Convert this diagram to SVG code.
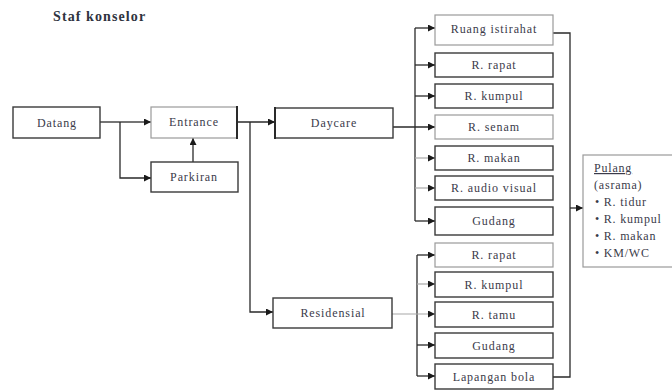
<svg xmlns="http://www.w3.org/2000/svg" width="672" height="392" viewBox="0 0 672 392">
<defs>
<marker id="ah" viewBox="0 0 8 8" refX="8" refY="4" markerWidth="7" markerHeight="7" markerUnits="userSpaceOnUse" orient="auto">
<path d="M0,0 L8,4 L0,8 Z" fill="#1a1a1a"/>
</marker>
</defs>
<style>
.box{fill:#fff;stroke:#3a3a3a;stroke-width:1.4}
.lbox{fill:#fff;stroke:#9a9a9a;stroke-width:1.2}
.t{font-family:"Liberation Serif","Times New Roman",serif;font-size:12px;letter-spacing:0.9px;fill:#3b3b4a;text-anchor:middle;dominant-baseline:central}
.p{font-family:"Liberation Serif","Times New Roman",serif;font-size:12px;letter-spacing:0.8px;fill:#3b3b4a}
.c{fill:none;stroke:#2a2a2a;stroke-width:1.3}
.cl{fill:none;stroke:#a8a8a8;stroke-width:1.2}
.a{marker-end:url(#ah)}
</style>
<rect width="672" height="392" fill="#fff"/>
<text x="53" y="21" style="font-family:'Liberation Serif','Times New Roman',serif;font-size:14px;font-weight:bold;letter-spacing:1.1px;fill:#2f3340">Staf konselor</text>

<g id="connectors">
<path class="c" d="M100,122 H120"/>
<path class="c a" d="M120,122 H151"/>
<path class="c a" d="M120,122 V178 H151"/>
<path class="c a" d="M193,162 V138"/>
<path class="c a" d="M237,122 H275"/>
<path class="c a" d="M250,122 V312 H273"/>
<path class="c a" d="M391,127 H435"/>
<path class="c" d="M415,28 V221"/>
<path class="c a" d="M415,28 H435"/>
<path class="c a" d="M415,65 H435"/>
<path class="c a" d="M415,96 H435"/>
<path class="cl a" d="M415,158 H435"/>
<path class="cl a" d="M415,188 H435"/>
<path class="c a" d="M415,221 H435"/>
<path class="c" d="M417,255 V376"/>
<path class="c a" d="M417,255 H435"/>
<path class="cl a" d="M417,284 H435"/>
<path class="cl a" d="M392,314 H435"/>
<path class="c a" d="M417,345 H435"/>
<path class="c a" d="M417,376 H435"/>
<path class="c" d="M553,33 H570 V377 H553"/>
<path class="c a" d="M570,208 H583"/>
</g>

<g id="datang"><rect class="box" x="13" y="107" width="87" height="31"/><text class="t" x="57" y="123">Datang</text></g>
<g id="entrance"><rect class="lbox" x="151" y="107" width="86" height="31"/><path class="c" d="M237,106 V139" style="stroke-width:2"/><text class="t" x="194" y="122">Entrance</text></g>
<g id="parkiran"><rect class="box" x="151" y="162" width="87" height="30"/><text class="t" x="194" y="177">Parkiran</text></g>
<g id="daycare"><rect class="box" x="275" y="108" width="118" height="30"/><path class="c" d="M275,107 V139" style="stroke-width:2"/><text class="t" x="334" y="123">Daycare</text></g>
<g id="residensial"><rect class="box" x="273" y="298" width="119" height="30"/><text class="t" x="333" y="313">Residensial</text></g>

<g id="ruang-istirahat"><rect class="lbox" x="435" y="15" width="118" height="30"/><text class="t" x="494" y="29">Ruang istirahat</text></g>
<g id="r-rapat-1"><rect class="box" x="435" y="53" width="118" height="24"/><text class="t" x="494" y="65">R. rapat</text></g>
<g id="r-kumpul-1"><rect class="box" x="435" y="84" width="118" height="24"/><text class="t" x="494" y="96">R. kumpul</text></g>
<g id="r-senam"><rect class="lbox" x="435" y="115" width="118" height="24"/><text class="t" x="494" y="127">R. senam</text></g>
<g id="r-makan"><rect class="box" x="435" y="146" width="118" height="24"/><text class="t" x="494" y="158">R. makan</text></g>
<g id="r-audio-visual"><rect class="box" x="435" y="176" width="118" height="24"/><text class="t" x="494" y="188">R. audio visual</text></g>
<g id="gudang-1"><rect class="box" x="435" y="207" width="118" height="28"/><text class="t" x="494" y="221">Gudang</text></g>

<g id="r-rapat-2"><rect class="lbox" x="435" y="243" width="118" height="24"/><text class="t" x="494" y="255">R. rapat</text></g>
<g id="r-kumpul-2"><rect class="box" x="435" y="272" width="118" height="25"/><text class="t" x="494" y="284.5">R.  kumpul</text></g>
<g id="r-tamu"><rect class="box" x="435" y="302" width="118" height="25"/><text class="t" x="494" y="314.5">R.  tamu</text></g>
<g id="gudang-2"><rect class="box" x="435" y="333" width="118" height="25"/><text class="t" x="494" y="345.5">Gudang</text></g>
<g id="lapangan-bola"><rect class="box" x="435" y="364" width="118" height="25"/><text class="t" x="494" y="376.5">Lapangan bola</text></g>

<g id="pulang">
<rect class="lbox" x="583" y="155" width="100" height="112"/>
<text class="p" x="594" y="172" text-decoration="underline">Pulang</text>
<text class="p" x="594" y="189">(asrama)</text>
<text class="p" x="595" y="206">• R. tidur</text>
<text class="p" x="595" y="223">• R. kumpul</text>
<text class="p" x="595" y="240">• R. makan</text>
<text class="p" x="595" y="257">• KM/WC</text>
</g>
</svg>
